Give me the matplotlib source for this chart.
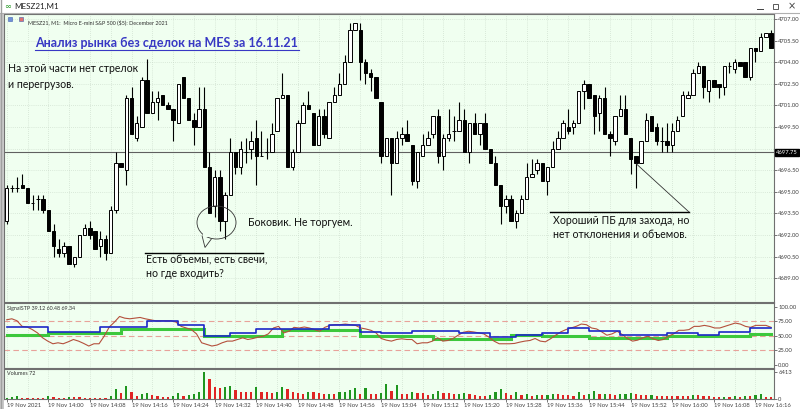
import matplotlib
matplotlib.use("Agg")
import matplotlib.pyplot as plt
import numpy as np
import pandas as pd
from matplotlib.patches import Ellipse, Polygon, Rectangle

plt.rcParams["font.family"] = ["Lato", "DejaVu Sans"]

# ---- data (MESZ21, M1, 19 Nov 2021 from 13:52) ----
opens = [
    4693.0, 4695.25, 4695.25, 4695.5, 4695.25, 4694.25, 4694.5, 4694.5, 4693.75, 4692.25,
    4691.0, 4690.75, 4691.25, 4690.0, 4690.5, 4692.0, 4692.5, 4692.25, 4691.25, 4691.75,
    4690.75, 4693.75, 4697.0, 4696.5, 4701.5, 4698.75, 4699.5, 4702.75, 4700.5, 4701.25,
    4701.75, 4701.0, 4700.75, 4699.75, 4703.0, 4701.5, 4700.0, 4699.5, 4700.75, 4696.75,
    4694.0, 4696.0, 4693.0, 4694.75, 4697.75, 4696.75, 4697.75, 4698.0, 4698.75, 4697.5,
    4697.75, 4697.75, 4699.25, 4701.5, 4701.75, 4696.75, 4697.75, 4699.75, 4701.0, 4700.5,
    4698.25, 4700.25, 4698.75, 4701.25, 4701.75, 4702.5, 4704.0, 4706.25, 4706.25, 4704.0,
    4703.25, 4703.0, 4701.25, 4697.5, 4698.75, 4697.0, 4698.75, 4699.0, 4698.25, 4695.75,
    4697.5, 4698.25, 4699.0, 4700.25, 4697.5, 4698.75, 4699.25, 4699.25, 4700.0, 4697.75,
    4699.75, 4699.0, 4699.75, 4698.0, 4697.0, 4695.5, 4694.0, 4694.5, 4693.0, 4693.5,
    4694.5, 4696.0, 4696.5, 4697.0, 4695.75, 4696.75, 4698.0, 4698.75, 4699.5, 4699.5,
    4699.75, 4702.0, 4702.5, 4701.75, 4700.5, 4701.5, 4699.0, 4698.5, 4700.25, 4700.75,
    4698.75, 4697.5, 4697.0, 4698.5, 4700.25, 4699.5, 4698.5, 4698.5, 4698.25, 4699.25,
    4700.25, 4701.5, 4701.75, 4703.25, 4703.75, 4702.0, 4702.75, 4702.5, 4702.25, 4703.75,
    4703.5, 4704.0, 4704.0, 4703.0, 4705.0, 4704.75, 4705.75, 4706.0,
]
highs = [
    4695.5, 4695.5, 4696.0, 4696.25, 4695.25, 4694.75, 4694.75, 4694.75, 4693.75, 4692.75,
    4691.75, 4691.5, 4691.25, 4690.5, 4692.0, 4692.75, 4693.0, 4692.25, 4692.25, 4692.0,
    4694.0, 4697.75, 4697.0, 4701.75, 4702.25, 4700.25, 4703.0, 4704.25, 4702.0, 4702.0,
    4701.75, 4701.25, 4700.75, 4702.5, 4703.0, 4701.5, 4700.5, 4702.25, 4702.25, 4697.75,
    4696.5, 4696.5, 4695.0, 4698.75, 4697.75, 4698.5, 4698.75, 4699.25, 4700.0, 4699.25,
    4698.75, 4699.75, 4701.5, 4703.25, 4701.75, 4698.0, 4700.0, 4701.25, 4702.0, 4700.5,
    4700.75, 4700.75, 4701.25, 4702.25, 4703.25, 4704.5, 4706.75, 4706.75, 4706.75, 4704.25,
    4703.5, 4703.0, 4701.25, 4698.75, 4698.75, 4699.25, 4699.5, 4700.0, 4698.25, 4697.75,
    4699.0, 4699.25, 4700.25, 4700.75, 4699.0, 4700.75, 4700.25, 4701.25, 4700.75, 4699.75,
    4700.5, 4699.75, 4700.5, 4698.0, 4697.5, 4695.5, 4694.75, 4694.75, 4693.75, 4694.75,
    4697.0, 4697.25, 4697.25, 4697.0, 4696.75, 4698.5, 4699.25, 4700.0, 4700.75, 4700.0,
    4702.0, 4702.75, 4702.5, 4701.75, 4701.75, 4702.25, 4699.25, 4700.25, 4701.75, 4701.75,
    4698.75, 4697.5, 4698.5, 4700.5, 4700.25, 4699.75, 4699.5, 4699.75, 4699.75, 4700.25,
    4702.0, 4702.0, 4703.5, 4704.0, 4703.75, 4702.75, 4702.75, 4702.5, 4703.75, 4704.0,
    4704.25, 4704.0, 4704.0, 4705.0, 4705.0, 4706.0, 4706.0, 4706.25,
]
lows = [
    4692.75, 4695.0, 4695.0, 4695.25, 4694.25, 4693.75, 4693.75, 4693.5, 4692.25, 4690.5,
    4690.5, 4690.5, 4690.0, 4689.75, 4690.5, 4692.0, 4691.75, 4691.0, 4690.5, 4690.25,
    4690.75, 4693.5, 4696.75, 4695.5, 4699.0, 4698.5, 4699.5, 4700.5, 4700.5, 4700.0,
    4701.0, 4700.75, 4698.5, 4699.75, 4701.5, 4700.0, 4698.25, 4699.5, 4696.75, 4693.5,
    4693.25, 4692.25, 4691.75, 4694.75, 4696.25, 4696.25, 4697.0, 4697.25, 4695.5, 4697.5,
    4697.25, 4697.75, 4699.25, 4701.5, 4696.75, 4696.5, 4697.75, 4699.75, 4700.75, 4698.25,
    4698.25, 4698.75, 4698.75, 4701.25, 4701.75, 4702.5, 4704.0, 4706.25, 4702.75, 4702.5,
    4702.0, 4701.5, 4697.0, 4697.5, 4694.75, 4697.0, 4698.25, 4698.5, 4695.5, 4695.25,
    4697.5, 4698.25, 4698.75, 4697.0, 4696.5, 4698.5, 4698.5, 4699.25, 4697.75, 4697.0,
    4699.0, 4698.25, 4698.0, 4697.0, 4695.5, 4692.75, 4693.5, 4693.0, 4692.5, 4693.5,
    4694.5, 4696.0, 4696.25, 4695.75, 4694.75, 4696.75, 4698.0, 4698.75, 4699.0, 4699.0,
    4699.75, 4700.75, 4701.5, 4699.0, 4699.25, 4699.0, 4697.5, 4698.25, 4700.25, 4699.0,
    4696.25, 4695.25, 4697.0, 4698.5, 4699.25, 4698.25, 4697.75, 4697.75, 4697.75, 4699.25,
    4700.25, 4701.5, 4701.75, 4703.25, 4701.5, 4701.25, 4702.25, 4701.5, 4701.75, 4703.25,
    4703.25, 4703.75, 4703.0, 4702.75, 4704.0, 4704.75, 4705.75, 4705.0,
]
closes = [
    4695.25, 4695.25, 4695.25, 4695.25, 4694.25, 4694.25, 4694.5, 4693.75, 4692.25, 4691.25,
    4690.75, 4691.25, 4690.0, 4690.5, 4692.0, 4692.5, 4692.0, 4691.0, 4691.75, 4690.75,
    4693.75, 4697.0, 4696.75, 4701.5, 4699.0, 4699.75, 4702.75, 4700.5, 4701.25, 4701.5,
    4701.0, 4700.75, 4700.0, 4702.5, 4701.5, 4700.0, 4699.5, 4700.75, 4696.75, 4693.5,
    4696.0, 4693.0, 4694.75, 4697.75, 4696.75, 4698.0, 4697.75, 4698.5, 4697.5, 4697.5,
    4697.75, 4699.0, 4701.5, 4701.75, 4696.75, 4697.75, 4699.75, 4701.0, 4700.75, 4698.25,
    4700.25, 4699.0, 4701.25, 4701.75, 4702.5, 4704.0, 4706.25, 4706.75, 4704.0, 4703.25,
    4703.0, 4701.5, 4697.5, 4698.75, 4697.0, 4698.75, 4699.0, 4698.5, 4695.75, 4697.75,
    4698.25, 4698.75, 4700.25, 4697.5, 4698.75, 4699.0, 4699.25, 4700.0, 4697.75, 4699.75,
    4699.0, 4699.75, 4698.0, 4697.0, 4695.5, 4694.0, 4694.5, 4693.0, 4693.5, 4694.5,
    4696.0, 4696.25, 4697.0, 4695.75, 4696.75, 4698.0, 4698.75, 4699.75, 4699.25, 4699.75,
    4702.0, 4702.5, 4701.5, 4700.25, 4701.5, 4699.0, 4698.75, 4700.25, 4700.75, 4699.0,
    4697.25, 4697.0, 4698.5, 4700.0, 4699.25, 4698.5, 4698.5, 4698.25, 4699.25, 4700.0,
    4701.75, 4701.75, 4703.25, 4703.75, 4702.25, 4702.75, 4702.25, 4702.25, 4703.75, 4703.75,
    4704.0, 4703.75, 4703.0, 4705.0, 4704.75, 4705.75, 4706.0, 4705.0,
]
volumes = [
    250, 400, 720, 320, 320, 240, 240, 240, 800, 400,
    240, 240, 400, 400, 400, 240, 240, 240, 240, 240,
    720, 2320, 1440, 3200, 1760, 800, 1200, 1360, 1040, 720,
    560, 560, 800, 1360, 640, 1040, 1120, 1600, 6413, 4720,
    2880, 2560, 2800, 3200, 2160, 1760, 1760, 1760, 2960, 1760,
    1760, 1360, 1680, 2800, 2480, 1600, 1520, 1200, 1600, 1600,
    1440, 1200, 1280, 1280, 1600, 1680, 2160, 2640, 1280, 2640,
    1200, 1200, 1360, 3520, 1840, 3360,
    1200, 1200, 1600, 1360, 1360, 960, 1200, 2000, 1360, 1360,
    1120, 1200, 1360, 1200, 960, 800, 800, 1040, 1760, 2320,
    1360, 1040, 1600, 960, 1280, 800, 880, 880, 960, 1280,
    1120, 1040, 1040, 800, 1600, 960, 1120, 2000, 1120, 1280,
    1280, 1040, 1200, 1280, 1360, 1280, 960, 960, 1040, 800,
    800, 800, 800, 800, 800, 800, 1040, 1040, 800, 800,
    480, 480, 560, 480, 720, 480, 720, 720, 1040, 1200,
    560, 560,
]
# SignalSTP oscillator (thin brown line), read at evenly spaced points
osc_values = [
    77.8, 79.5, 76.1, 66.4, 65.3, 60.8, 55.1, 46.6, 40.9, 36.3,
    38.0, 36.3, 39.7, 43.7, 40.9, 36.9, 32.4, 36.3, 36.3, 49.4,
    65.3, 73.8, 83.5, 80.6, 79.5, 80.6, 81.8, 79.5, 77.8, 76.1,
    76.1, 76.1, 76.1, 73.8, 66.4, 63.6, 60.8, 53.4, 38.0, 35.2,
    32.4, 34.1, 38.0, 40.9, 40.9, 43.7, 46.6, 43.7, 45.4, 47.7,
    49.4, 53.4, 63.6, 66.4, 55.1, 57.9, 64.7, 63.6, 65.3, 63.6,
    60.8, 57.9, 64.7, 68.1, 69.3, 69.3, 70.4, 69.3, 68.1, 63.6,
    61.9, 59.6, 55.1, 45.4, 42.6, 40.9, 43.7, 44.9,
    43.7, 43.7, 36.3, 38.0, 38.0, 40.9, 46.6, 40.9, 42.0, 45.4,
    51.1, 56.2, 57.9, 56.8, 55.1, 53.4, 47.7, 40.9, 36.3, 36.3,
    36.3, 36.9, 39.1, 40.9, 42.0, 45.4, 40.9, 39.7, 44.9, 51.1,
    56.8, 60.8, 63.6, 66.4, 70.4, 69.3, 63.6, 61.9, 56.8, 51.1,
    53.4, 57.9, 52.2, 45.4, 40.9, 42.6, 46.6, 49.4, 44.9, 42.0,
    43.7, 49.4, 53.4, 59.6, 59.6, 60.8, 66.4, 66.4, 68.1, 66.4,
    63.6, 63.6, 66.4, 69.3, 72.1, 70.4, 66.4, 64.7, 68.1, 68.1,
    68.1, 64.7,
]
# step lines: bar index where a level starts, and the level
blue_start = [0, 8, 18, 27, 33, 38, 43, 48, 62, 68, 72, 78, 87, 93, 98, 103, 108, 112, 118, 127, 133, 137, 143]
blue_level = [65.3, 56.2, 65.3, 75.0, 69.3, 49.4, 55.1, 62.5, 69.3, 56.2, 55.1, 59.1, 55.1, 48.3, 51.1,
              55.1, 63.6, 59.1, 52.2, 55.1, 51.1, 56.8, 63.6]
green_start = [0, 8, 22, 38, 48, 53, 68, 82, 97, 103, 112, 127, 143]
green_level = [51.1, 55.1, 62.5, 49.4, 50.5, 60.8, 49.4, 43.7, 51.1, 49.4, 46.6, 49.4, 53.4]

price_ticks = [4689.0, 4690.5, 4692.0, 4693.5, 4695.0, 4696.5, 4698.0, 4699.5, 4701.0, 4702.5, 4704.0, 4705.5, 4707.0]
level_price = 4697.75
osc_levels = [25, 50, 75]

W, H = 800, 409
BG = "#f0fff0"
GRID = "#c4d4c4"
FRAME = "#707070"
TICKFONT = 4.2

n = len(closes)
x = np.arange(n)
times = pd.date_range("2021-11-19 13:52", periods=n, freq="min")


def px_axes(fig, x0, y0, x1, y1):
    return fig.add_axes([x0 / W, 1 - y1 / H, (x1 - x0) / W, (y1 - y0) / H])


def style_panel(ax):
    ax.set_facecolor(BG)
    for s in ax.spines.values():
        s.set_color(FRAME)
        s.set_linewidth(0.8)
    ax.yaxis.tick_right()
    ax.tick_params(axis="y", labelsize=TICKFONT, length=2, width=0.5, colors="#404040", pad=1)
    ax.set_xlim(-0.52, n - 0.44)
    for k in range(0, n, 4):
        ax.axvline(k, color=GRID, lw=0.5, ls=(0, (1, 2)), zorder=0)


fig = plt.figure(figsize=(W / 100, H / 100), dpi=100)
fig.patch.set_facecolor("white")

# ---- main candle panel ----
ax = px_axes(fig, 4, 14, 774, 302)
style_panel(ax)
ax.set_ylim(4687.35, 4707.35)
ax.set_yticks(price_ticks)
# the black price box hides the neighbouring 4698.00 label, as in the terminal
ax.set_yticklabels(["" if abs(p - level_price) < 0.5 else f"{p:.2f}" for p in price_ticks])
ax.set_xticks([])
for p in price_ticks:
    ax.axhline(p, color=GRID, lw=0.5, ls=(0, (1, 2)), zorder=0)

o = np.array(opens)
c = np.array(closes)
ax.vlines(x, lows, highs, color="black", lw=0.8, zorder=2)
up = c >= o
body_lo = np.minimum(o, c)
body_h = np.abs(c - o)
ax.bar(x[up], body_h[up], bottom=body_lo[up], width=0.68, color="white",
       edgecolor="black", linewidth=0.7, zorder=3)
ax.bar(x[~up], body_h[~up], bottom=body_lo[~up], width=0.68, color="black",
       edgecolor="black", linewidth=0.7, zorder=3)
ax.axhline(level_price, color="#606060", lw=0.8, zorder=1)
ax.text(1.003, level_price, f"{level_price:.2f}", transform=ax.get_yaxis_transform(),
        fontsize=TICKFONT, color="white", va="center", ha="left", zorder=5,
        bbox=dict(boxstyle="square,pad=0.15", fc="black", ec="black"))

# ---- indicator panel ----
ax2 = px_axes(fig, 4, 303, 774, 368)
style_panel(ax2)
ax2.set_ylim(-5.6, 106.8)
ax2.set_yticks([0, 25, 50, 75, 100])
ax2.set_yticklabels(["0.00", "25.00", "50.00", "75.00", "100.00"])
ax2.set_xticks([])
for lv in osc_levels:
    ax2.axhline(lv, color="#e8a29a", lw=0.8, ls=(0, (5, 3)), zorder=1)
osc_x = np.linspace(0, n - 1, len(osc_values))
ax2.plot(osc_x, osc_values, color="#b4503c", lw=0.8, zorder=3)


def step_series(starts, levels):
    xs, ys = [], []
    ends = starts[1:] + [n - 1]
    for s, e, lv in zip(starts, ends, levels):
        xs += [s, e]
        ys += [lv, lv]
    return xs, ys


gx, gy = step_series(green_start, green_level)
ax2.plot(gx, gy, color="#3cc83c", lw=2.2, zorder=2, solid_joinstyle="miter")
bx, by = step_series(blue_start, blue_level)
ax2.plot(bx, by, color="#1c28c8", lw=1.2, zorder=4)

# ---- volume panel ----
ax3 = px_axes(fig, 4, 369, 774, 399)
style_panel(ax3)
vol = np.array(volumes)
vmax = vol.max()
ax3.set_ylim(0, vmax * 1.12)
ax3.set_yticks([0, vmax])
ax3.set_yticklabels(["0", str(vmax)])
rising = np.concatenate([[True], vol[1:] > vol[:-1]])
ax3.bar(x, vol, width=0.42, color=np.where(rising, "#1e961e", "#e02424"), zorder=3)
label_idx = list(range(0, n, 8))
ax3.set_xticks(label_idx)
ax3.set_xticklabels(["19 Nov 2021" if i == 0 else times[i].strftime("19 Nov %H:%M") for i in label_idx],
                    ha="left")
ax3.tick_params(axis="x", labelsize=TICKFONT, length=2, width=0.5, colors="#404040", pad=1)

# panel headers
ax.text(0.031, 0.982, "MESZ21, M1:  Micro E-mini S&P 500 ($5): December 2021", transform=ax.transAxes,
        fontsize=3.9, color="#303030", va="top", ha="left")
ax2.text(0.004, 0.95, "SignalSTP 39.12 60.48 69.34", transform=ax2.transAxes,
         fontsize=3.9, color="#303030", va="top", ha="left")
ax3.text(0.004, 0.93, "Volumes 72", transform=ax3.transAxes,
         fontsize=3.9, color="#303030", va="top", ha="left")

# ---- overlay for window chrome and hand-drawn notes (pixel coordinates) ----
ov = fig.add_axes([0, 0, 1, 1], zorder=10)
ov.set_xlim(0, W)
ov.set_ylim(H, 0)
ov.axis("off")
ov.patch.set_alpha(0)

ov.plot([0, W], [12.5, 12.5], color="#b0b0b0", lw=0.8)
ov.plot([0.5, 0.5], [0, H], color="#a0a0a0", lw=1)
ov.add_patch(Rectangle((0, 12.5), 3.5, H - 12.5, color="#c8c8c8", lw=0))
ov.text(4, 6.5, "∞", color="#2a9a2a", fontsize=6, va="center", ha="left", family="DejaVu Sans")
ov.text(14, 6.5, "MESZ21,M1", color="#202020", fontsize=5.8, va="center", ha="left")
ov.plot([756.5, 762.5], [9, 9], color="#404040", lw=0.7)
ov.add_patch(Rectangle((772.5, 4), 5, 5, fill=False, ec="#404040", lw=0.6))
ov.text(791.5, 6.5, "×", color="#404040", fontsize=7, va="center", ha="center", family="DejaVu Sans")
ov.add_patch(Rectangle((7.5, 16.5), 4.5, 4.5, fc="#6f8fd8", ec="#4060b0", lw=0.4))
ov.add_patch(Rectangle((18.5, 16.5), 4.5, 4.5, fc="#e07070", ec="#4060b0", lw=0.4))

ov.text(35, 43, "Анализ рынка без сделок на MES за 16.11.21", color="#3838c4",
        fontsize=9.0, fontweight="bold", va="center", ha="left")
ov.plot([35, 299], [50, 50], color="#3838c4", lw=0.8)

ov.text(8, 68, "На этой части нет стрелок", fontsize=7.6, va="center", ha="left", color="#111111")
ov.text(8, 84, "и перегрузов.", fontsize=7.6, va="center", ha="left", color="#111111")

ov.text(248, 223, "Боковик. Не торгуем.", fontsize=7.6, va="center", ha="left", color="#111111")
ov.add_patch(Ellipse((216.5, 222.5), 39, 33, fill=False, ec="#333333", lw=0.6))
ov.add_patch(Polygon([(202, 235.5), (205, 247.5), (211.5, 238.8)], closed=False,
                     fill=False, ec="#333333", lw=0.6))
ov.add_patch(Rectangle((202.6, 233), 8, 4, fc=BG, ec="none"))

ov.plot([145, 263], [252.5, 252.5], color="black", lw=1.0)
ov.text(146, 259.5, "Есть объемы, есть свечи,", fontsize=7.6, va="center", ha="left", color="#111111")
ov.text(146, 273.5, "но где входить?", fontsize=7.6, va="center", ha="left", color="#111111")

ov.plot([550, 689], [212, 212], color="black", lw=1.0)
ov.plot([636.5, 689], [164, 212], color="#333333", lw=0.6)
ov.text(553, 220.5, "Хороший ПБ для захода, но", fontsize=7.6, va="center", ha="left", color="#111111")
ov.text(553, 234, "нет отклонения и объемов.", fontsize=7.6, va="center", ha="left", color="#111111")

fig.savefig("out.png", dpi=100, facecolor="white")
